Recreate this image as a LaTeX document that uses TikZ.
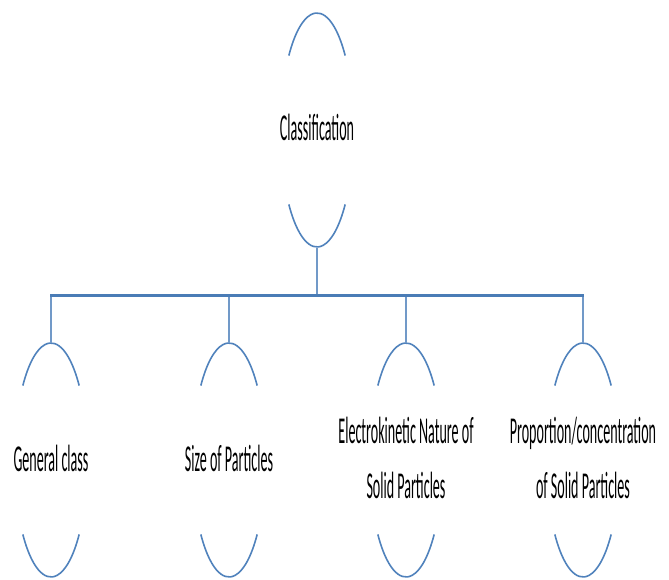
\documentclass[tikz,border=0pt]{standalone}
\usepackage{fontspec}
\setmainfont{Carlito}
\usepackage{graphicx}
\definecolor{ovalblue}{HTML}{5082BC}
\definecolor{barblue}{HTML}{4A7CB6}
\definecolor{linkblue}{HTML}{7199C8}
% narrow, tall lettering used for every label
\newcommand{\tallfont}[1]{\scalebox{0.37}[1]{\fontsize{38pt}{55pt}\selectfont
  \begin{tabular}{@{}c@{}}#1\end{tabular}}}
\tikzset{
  oval/.style={rectangle, inner sep=0pt, minimum width=73pt, minimum height=234pt,
    text=black},
  arcline/.style={draw=ovalblue, line width=1.6pt},
  barline/.style={draw=barblue, line width=3pt},
  linkline/.style={draw=linkblue, line width=1.3pt},
}
% the two visible arcs of an oval node: cap on top, cup at the bottom
\newcommand{\ovalarcs}[1]{%
  \draw[arcline] ([shift={(39.5:36.5pt and 117pt)}]#1.center)
    arc[start angle=39.5, end angle=140.5, x radius=36.5pt, y radius=117pt];
  \draw[arcline] ([shift={(219.5:36.5pt and 117pt)}]#1.center)
    arc[start angle=219.5, end angle=320.5, x radius=36.5pt, y radius=117pt];}
\begin{document}
\begin{tikzpicture}[x=1pt,y=1pt]
\useasboundingbox (0,0) rectangle (669,579);

\node[oval, minimum height=235pt] (cls) at (317,449) {\tallfont{Classification}};
\node[oval] (gen)  at (51,119)  {\tallfont{General class}};
\node[oval] (size) at (229,119) {\tallfont{Size of Particles}};
\node[oval] (elec) at (406,119) {\tallfont{Electrokinetic Nature of\\Solid Particles}};
\node[oval] (prop) at (583,119) {\tallfont{Proportion/concentration\\of Solid Particles}};

\foreach \n in {cls,gen,size,elec,prop} {\ovalarcs{\n}}

\coordinate (bar) at (0,283);
\draw[linkline] (cls.south) -- (cls.south |- bar);
\foreach \n in {gen,size,elec,prop}
  \draw[linkline] (\n.north |- bar) -- (\n.north);
\draw[barline] ([xshift=-0.65pt]gen.north |- bar) -- ([xshift=0.65pt]prop.north |- bar);
\end{tikzpicture}
\end{document}
